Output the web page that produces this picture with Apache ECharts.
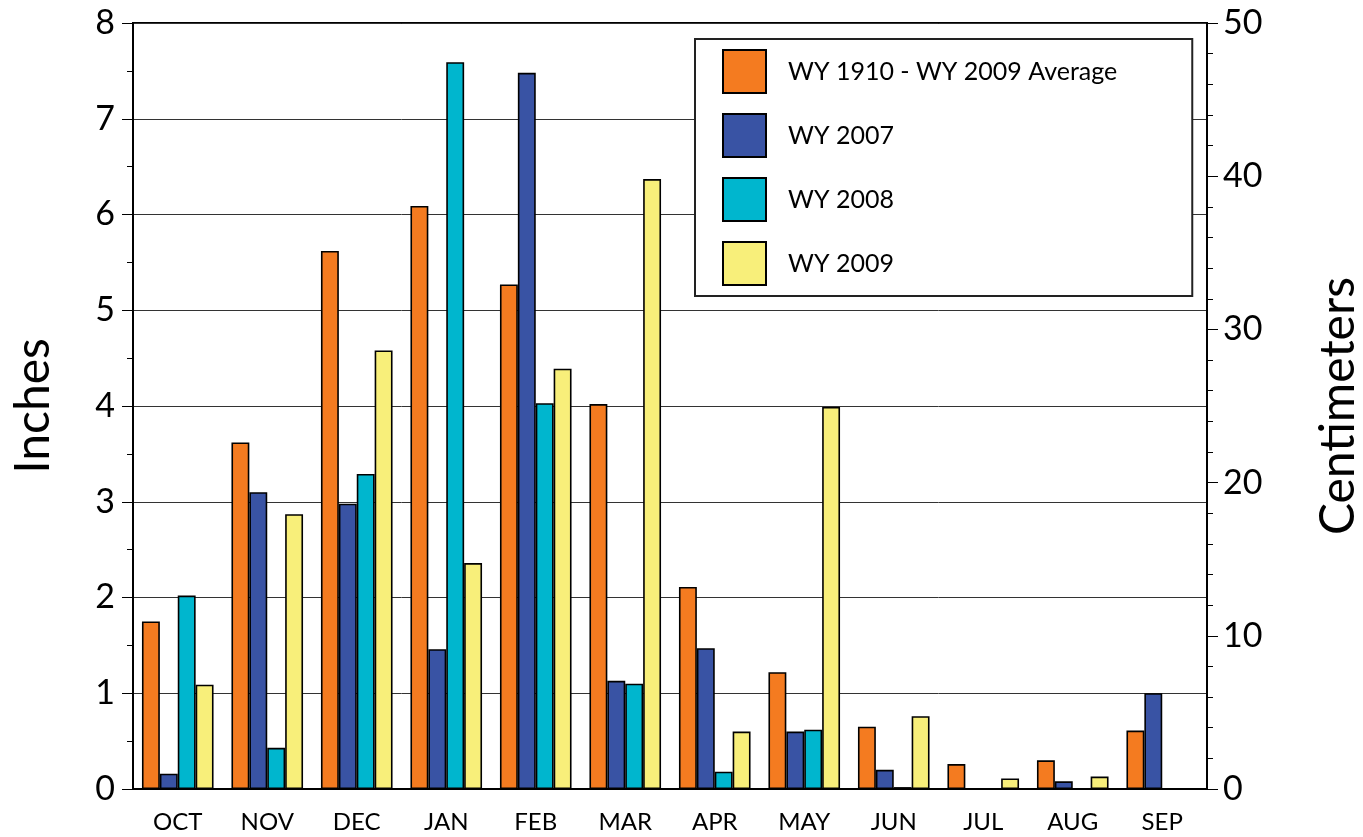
<!DOCTYPE html>
<html>
<head>
<meta charset="utf-8">
<script src="https://cdn.jsdelivr.net/npm/echarts@6/dist/echarts.min.js"></script>
<style>
  html, body { margin: 0; padding: 0; background: #fff; }
  #chart { width: 1363px; height: 837px; }
</style>
</head>
<body>
<div id="chart"></div>
<script>
// monthly precipitation, inches
const months = ["OCT", "NOV", "DEC", "JAN", "FEB", "MAR", "APR", "MAY", "JUN", "JUL", "AUG", "SEP"];
const avg1910to2009 = [1.75, 3.62, 5.62, 6.09, 5.27, 4.02, 2.11, 1.22, 0.65, 0.26, 0.30, 0.61];
const wy2007 = [0.16, 3.10, 2.98, 1.46, 7.48, 1.13, 1.47, 0.60, 0.20, 0, 0.08, 1.00];
const wy2008 = [2.02, 0.43, 3.29, 7.59, 4.03, 1.10, 0.18, 0.62, 0.02, 0, 0, 0];
const wy2009 = [1.09, 2.87, 4.58, 2.36, 4.39, 6.37, 0.60, 3.99, 0.76, 0.11, 0.13, 0];

const seriesNames = ["WY 1910 - WY 2009 Average", "WY 2007", "WY 2008", "WY 2009"];
const colors = ["#F47B20", "#3953A4", "#00B6CE", "#F8EF7A"];
const font = "Lato, 'Noto Sans', sans-serif";

const chart = echarts.init(document.getElementById("chart"));

const makeBar = (name, data, color) => ({
  name: name,
  type: "bar",
  data: data,
  barGap: "0%",
  barCategoryGap: "20%",
  itemStyle: { color: color, borderColor: "#000", borderWidth: 1.6 },
});

chart.setOption({
  animation: false,
  textStyle: { fontFamily: font },
  grid: {
    left: 133, right: 156, top: 23, bottom: 48,
    outerBoundsMode: "none",
    show: true, borderColor: "#000", borderWidth: 2, backgroundColor: "transparent",
  },
  legend: {
    orient: "vertical",
    left: 695,
    top: 39,
    padding: [10, 75, 10, 27],
    itemWidth: 43,
    itemHeight: 43,
    itemGap: 19,
    icon: "rect",
    backgroundColor: "#fff",
    borderColor: "#222",
    borderWidth: 2,
    textStyle: { fontSize: 25, color: "#000", fontFamily: font, padding: [0, 0, 0, 17] },
    data: seriesNames,
  },
  xAxis: {
    type: "category",
    data: months,
    axisLine: { lineStyle: { color: "#000", width: 2 } },
    axisTick: { length: 12, lineStyle: { color: "#000", width: 1 } },
    axisLabel: { fontSize: 24, color: "#000", margin: 21 },
  },
  yAxis: [
    {
      type: "value",
      name: "Inches",
      nameLocation: "middle",
      nameGap: 75,
      nameTextStyle: { fontSize: 48, color: "#000" },
      min: 0, max: 8, interval: 1,
      axisLine: { show: true, lineStyle: { color: "#000", width: 2 } },
      axisTick: { show: true, length: 11, lineStyle: { color: "#000" } },
      minorTick: { show: true, splitNumber: 2, length: 6, lineStyle: { color: "#000" } },
      axisLabel: { fontSize: 34, color: "#000", margin: 18 },
      splitLine: { show: true, lineStyle: { color: "#333", width: 1 } },
    },
    {
      type: "value",
      name: "Centimeters",
      nameLocation: "middle",
      nameGap: 108,
      nameRotate: 90,
      nameTextStyle: { fontSize: 48, color: "#000" },
      position: "right",
      min: 0, max: 50, interval: 10,
      axisLine: { show: true, lineStyle: { color: "#000", width: 2 } },
      axisTick: { show: true, length: 11, lineStyle: { color: "#000" } },
      minorTick: { show: true, splitNumber: 5, length: 6, lineStyle: { color: "#000" } },
      axisLabel: { fontSize: 34, color: "#000", margin: 16 },
      splitLine: { show: false },
    },
  ],
  series: [
    makeBar(seriesNames[0], avg1910to2009, colors[0]),
    makeBar(seriesNames[1], wy2007, colors[1]),
    makeBar(seriesNames[2], wy2008, colors[2]),
    makeBar(seriesNames[3], wy2009, colors[3]),
  ],
});
</script>
</body>
</html>
